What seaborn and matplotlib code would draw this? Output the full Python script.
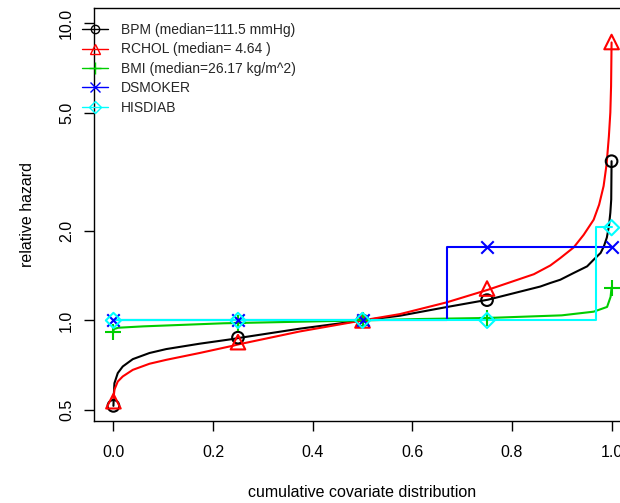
import matplotlib
matplotlib.use("Agg")
import numpy as np
import pandas as pd
import seaborn as sns
import matplotlib.pyplot as plt
from matplotlib.lines import Line2D
from matplotlib.ticker import FixedLocator, FixedFormatter, NullLocator

# ---------------- data ----------------
labels = ["BPM (median=111.5 mmHg)", "RCHOL (median= 4.64 )",
          "BMI (median=26.17 kg/m^2)", "DSMOKER", "HISDIAB"]

bpm_x = [0, 0.001, 0.002, 0.0087, 0.0187, 0.0389, 0.0724, 0.106, 0.173, 0.24,
         0.25, 0.374, 0.5, 0.575, 0.669, 0.752, 0.857, 0.877, 0.897, 0.924,
         0.951, 0.964, 0.978, 0.9846, 0.9905, 0.9946, 0.9975, 0.9993, 1.0]
bpm_y = [0.516, 0.57, 0.615, 0.665, 0.70, 0.741, 0.777, 0.801, 0.835, 0.866,
         0.872, 0.938, 1.0, 1.037, 1.109, 1.174, 1.30, 1.336, 1.37, 1.444,
         1.52, 1.60, 1.686, 1.775, 1.9, 2.07, 2.3, 2.55, 3.43]

rchol_x = [0, 0.002, 0.0087, 0.0187, 0.0389, 0.0724, 0.106, 0.173, 0.24, 0.25,
           0.374, 0.5, 0.575, 0.669, 0.752, 0.777, 0.844, 0.877, 0.897, 0.924,
           0.944, 0.964, 0.975, 0.984, 0.99, 0.9946, 0.9975, 0.999, 1.0]
rchol_y = [0.541, 0.585, 0.623, 0.648, 0.682, 0.715, 0.737, 0.777, 0.822, 0.83,
           0.918, 1.0, 1.05, 1.15, 1.268, 1.31, 1.43, 1.53, 1.62, 1.76,
           1.94, 2.18, 2.45, 2.83, 3.35, 4.16, 5.0, 6.14, 8.6]

bmi_x = [0, 0.0005, 0.01, 0.06, 0.221, 0.5, 0.616, 0.75, 0.9, 0.964, 0.991, 0.998, 1.0]
bmi_y = [0.911, 0.935, 0.945, 0.955, 0.978, 1.0, 1.011, 1.019, 1.04, 1.07, 1.11, 1.2, 1.29]

dsmoker_x = [0, 0.669, 0.669, 1.0]
dsmoker_y = [1.0, 1.0, 1.76, 1.76]

hisdiab_x = [0, 0.968, 0.968, 1.0]
hisdiab_y = [1.0, 1.0, 2.06, 2.06]

quant_x = [0, 0.25, 0.5, 0.75, 1.0]
bpm_q = [0.516, 0.875, 1.0, 1.17, 3.43]
rchol_q = [0.535, 0.845, 1.0, 1.28, 8.63]
bmi_q = [0.911, 0.98, 1.0, 1.019, 1.29]
dsmoker_q = [1.0, 1.0, 1.0, 1.76, 1.76]
hisdiab_q = [1.0, 1.0, 1.0, 1.0, 2.05]

x_ticks = [0.0, 0.2, 0.4, 0.6, 0.8, 1.0]
x_ticklabels = ["0.0", "0.2", "0.4", "0.6", "0.8", "1.0"]
y_ticks = [0.5, 1.0, 2.0, 5.0, 10.0]
y_ticklabels = ["0.5", "1.0", "2.0", "5.0", "10.0"]

colors = ["#000000", "#FF0000", "#00CD00", "#0000FF", "#00FFFF"]
markers = ["o", "^", "+", "x", "D"]
msizes = [70, 110, 130, 80, 60]
leg_ms = [6, 7.5, 9, 6.5, 6]

# ---------------- plot ----------------
sns.set_theme(style="white")
plt.rcParams['font.family'] = ['Liberation Sans', 'DejaVu Sans']

fig = plt.figure(figsize=(6.2, 5.03), dpi=100)
ax = fig.add_axes([93.5 / 620, 82 / 503, 538 / 620, 413 / 503])

curves = [(bpm_x, bpm_y), (rchol_x, rchol_y), (bmi_x, bmi_y),
          (dsmoker_x, dsmoker_y), (hisdiab_x, hisdiab_y)]
quants = [bpm_q, rchol_q, bmi_q, dsmoker_q, hisdiab_q]

for i, ((cx, cy), q) in enumerate(zip(curves, quants)):
    df = pd.DataFrame({"x": cx, "y": cy})
    sns.lineplot(data=df, x="x", y="y", color=colors[i], linewidth=1.5,
                 sort=False, estimator=None, ax=ax, zorder=2 + i * 0.1)
    dq = pd.DataFrame({"x": quant_x, "y": q})
    if markers[i] in ("+", "x"):
        sns.scatterplot(data=dq, x="x", y="y", marker=markers[i], s=msizes[i],
                        color=colors[i], linewidth=1.5, ax=ax, zorder=3 + i * 0.1)
    else:
        sns.scatterplot(data=dq, x="x", y="y", marker=markers[i], s=msizes[i],
                        facecolor="none", edgecolor=colors[i], linewidth=1.5,
                        ax=ax, zorder=3 + i * 0.1)

ax.set_yscale("log")
ax.set_xlim(-0.04, 1.04)
ax.set_ylim(0.459, 11.23)
ax.xaxis.set_major_locator(FixedLocator(x_ticks))
ax.xaxis.set_major_formatter(FixedFormatter(x_ticklabels))
ax.yaxis.set_major_locator(FixedLocator(y_ticks))
ax.yaxis.set_major_formatter(FixedFormatter(y_ticklabels))
ax.yaxis.set_minor_locator(NullLocator())
ax.xaxis.set_minor_locator(NullLocator())

ax.tick_params(axis="both", which="major", direction="out", length=7, width=1,
               color="black", labelsize=11.5, labelcolor="black",
               bottom=True, left=True, top=False, right=False)
ax.tick_params(axis="x", pad=10)
ax.tick_params(axis="y", pad=7)
for lab in ax.get_yticklabels():
    lab.set_rotation(90)
    lab.set_va("center")

for sp in ax.spines.values():
    sp.set_visible(True)
    sp.set_color("black")
    sp.set_linewidth(1.0)

ax.set_xlabel("cumulative covariate distribution", fontsize=11.5, labelpad=18,
              color="black")
ax.set_ylabel("relative hazard", fontsize=11.5, labelpad=17, color="black")
ax.grid(False)

handles = [Line2D([0], [0], color=colors[i], marker=markers[i], lw=1.0,
                  markersize=leg_ms[i], markerfacecolor="none",
                  markeredgecolor=colors[i], markeredgewidth=1.0)
           for i in range(5)]
leg = ax.legend(handles, labels, loc="upper left",
                bbox_to_anchor=(82 / 620, 1 - 23 / 503),
                bbox_transform=fig.transFigure, frameon=False, fontsize=10,
                handlelength=1.9, handletextpad=0.9, labelspacing=0.39,
                borderpad=0, borderaxespad=0)

fig.savefig("out.png", dpi=100)
